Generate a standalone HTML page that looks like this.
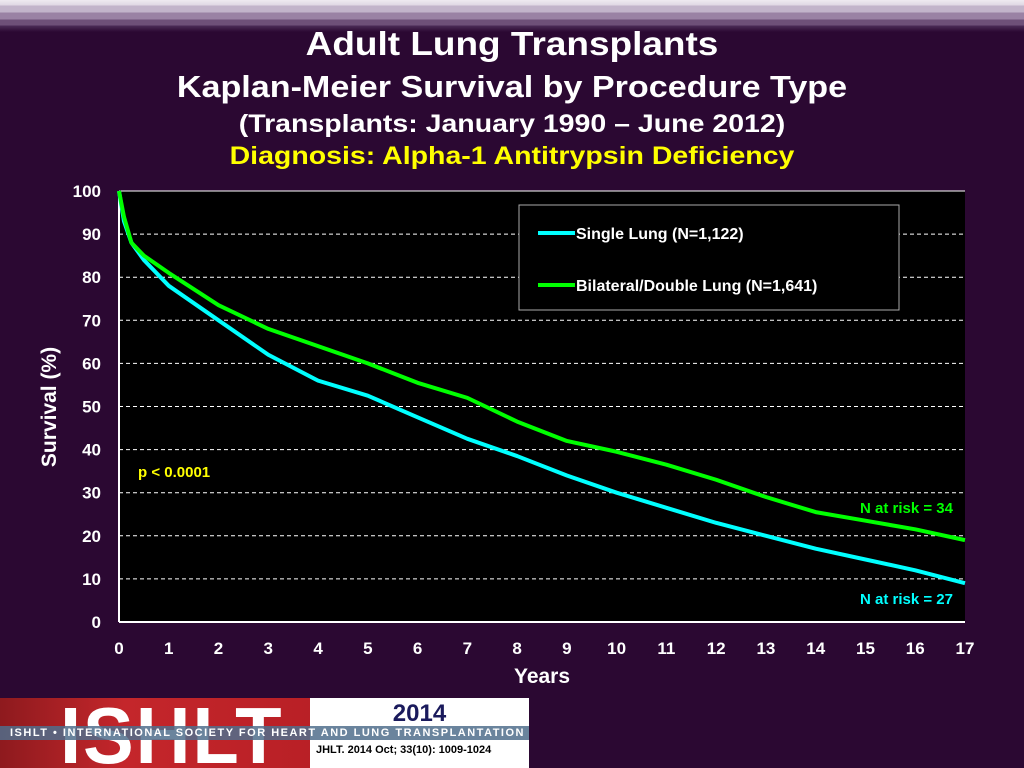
<!DOCTYPE html>
<html><head><meta charset="utf-8"><style>
body{margin:0;width:1024px;height:768px;overflow:hidden;background:#2b0832;font-family:"Liberation Sans",sans-serif;position:relative}
.t{position:absolute;left:0;width:1024px;text-align:center;font-weight:bold;color:#fff;white-space:nowrap}
</style></head><body>
<div style="position:absolute;left:0;top:0;width:1024px;height:32px;background:linear-gradient(#eeeaf0 0,#e0d8e4 5px,#c2b4ca 6px,#c2b4ca 12px,#9a82a4 13px,#9a82a4 19px,#6e5078 20px,#6e5078 25px,#4a2a55 26px,#2b0832 32px)"></div>
<div class="t" style="top:25px;font-size:33px;transform:scaleX(1.12)">Adult Lung Transplants</div>
<div class="t" style="top:69px;font-size:31px;transform:scaleX(1.1)">Kaplan-Meier Survival by Procedure Type</div>
<div class="t" style="top:110px;font-size:25px;transform:scaleX(1.14)">(Transplants: January 1990 – June 2012)</div>
<div class="t" style="top:142px;font-size:25px;color:#ffff00;transform:scaleX(1.14)">Diagnosis: Alpha-1 Antitrypsin Deficiency</div>
<svg id="c" width="1024" height="768" style="position:absolute;left:0;top:0"></svg>
<div style="position:absolute;left:0;top:698px;width:310px;height:70px;background:linear-gradient(90deg,#8e1a1e,#c4262b 40%,#b92026);overflow:hidden">
<div style="position:absolute;left:60px;top:-8px;font:bold 80px 'Liberation Sans',sans-serif;color:#fff;letter-spacing:2px;transform:scaleX(0.95);transform-origin:left">ISHLT</div></div>
<div style="position:absolute;left:310px;top:698px;width:219px;height:70px;background:#fff">
<div style="position:absolute;left:0;width:219px;top:2px;text-align:center;font:bold 24px 'Liberation Sans',sans-serif;color:#1a1a5c">2014</div>
<div style="position:absolute;left:6px;top:46px;font:bold 11px 'Liberation Sans',sans-serif;color:#000">JHLT. 2014 Oct; 33(10): 1009-1024</div></div>
<div style="position:absolute;left:0;top:726px;width:529px;height:14px;background:rgba(80,110,140,0.85);color:#fff;font:bold 11px 'Liberation Sans',sans-serif;line-height:14px;white-space:nowrap;padding-left:10px;box-sizing:border-box;letter-spacing:1.5px;overflow:hidden">ISHLT • INTERNATIONAL SOCIETY FOR HEART AND LUNG TRANSPLANTATION</div>
<script>
const years=[0,0.1,0.25,0.5,0.75,1,2,3,4,5,6,7,8,9,10,11,12,13,14,15,16,17];
const single=[100,93,88,84,81,78,70,62,56,52.5,47.5,42.5,38.5,34,30,26.5,23,20,17,14.5,12,9];
const bilateral=[100,94,88,85,83,81,73.5,68,64,60,55.5,52,46.5,42,39.5,36.5,33,29,25.5,23.5,21.5,19];
const xTicks=[0,1,2,3,4,5,6,7,8,9,10,11,12,13,14,15,16,17];
const yTicks=[0,10,20,30,40,50,60,70,80,90,100];
const X0=119,X1=965,Y0=622,Y1=191;
const sx=v=>X0+(X1-X0)*v/17, sy=v=>Y0-(Y0-Y1)*v/100;
const svg=document.getElementById('c'),NS='http://www.w3.org/2000/svg';
function mk(t,a,txt){const e=document.createElementNS(NS,t);for(const k in a)e.setAttribute(k,a[k]);if(txt!=null)e.textContent=txt;svg.appendChild(e);return e;}
let e=mk('rect',{x:X0,y:Y1,width:X1-X0,height:Y0-Y1,fill:'#000'});


yTicks.forEach(v=>{
 if(v>0){e=mk('line',{x1:X0,x2:X1,y1:sy(v),y2:sy(v),stroke:'#fff','stroke-width':1,'stroke-dasharray':v==100?'':'4,3'});
 
 }
 e=mk('text',{x:101,y:sy(v)+6,'text-anchor':'end',fill:'#fff','font-size':17,'font-weight':'bold','font-family':'Liberation Sans'},v);
 
 
});
xTicks.forEach(v=>{
 e=mk('text',{x:sx(v),y:654,'text-anchor':'middle',fill:'#fff','font-size':17,'font-weight':'bold','font-family':'Liberation Sans'},v);
 
 
});
e=mk('line',{x1:X0,x2:X0,y1:Y1,y2:Y0,stroke:'#fff','stroke-width':2});


e=mk('line',{x1:X0,x2:X1,y1:Y0,y2:Y0,stroke:'#fff','stroke-width':2});


e=mk('text',{x:542,y:683,'text-anchor':'middle',fill:'#fff','font-size':21,'font-weight':'bold','font-family':'Liberation Sans'},'Years');


e=mk('text',{x:56,y:407,'text-anchor':'middle',fill:'#fff','font-size':21,'font-weight':'bold','font-family':'Liberation Sans',transform:'rotate(-90 56 407)'},'Survival (%)');


function line(d,c,n){const p=mk('polyline',{points:years.map((y,i)=>sx(y)+','+sy(d[i])).join(' '),fill:'none',stroke:c,'stroke-width':4,'stroke-linejoin':'round'});}
line(single,'#00ffff','single-lung-line');
line(bilateral,'#00ff00','bilateral-lung-line');
e=mk('rect',{x:519,y:205,width:380,height:105,fill:'#000',stroke:'#aaa','stroke-width':1});


[['#00ffff','Single Lung (N=1,122)',233],['#00ff00','Bilateral/Double Lung (N=1,641)',285]].forEach(([c,t,y])=>{
 e=mk('line',{x1:538,x2:575,y1:y,y2:y,stroke:c,'stroke-width':4});
 
 
 e=mk('text',{x:576,y:y+6,fill:'#fff','font-size':16,'font-weight':'bold','font-family':'Liberation Sans'},t);
 
 
});
e=mk('text',{x:138,y:477,fill:'#ffff00','font-size':15,'font-weight':'bold','font-family':'Liberation Sans'},'p < 0.0001');


e=mk('text',{x:953,y:513,'text-anchor':'end',fill:'#00ff00','font-size':15,'font-weight':'bold','font-family':'Liberation Sans'},'N at risk = 34');


e=mk('text',{x:953,y:604,'text-anchor':'end',fill:'#00ffff','font-size':15,'font-weight':'bold','font-family':'Liberation Sans'},'N at risk = 27');


</script>
</body></html>
